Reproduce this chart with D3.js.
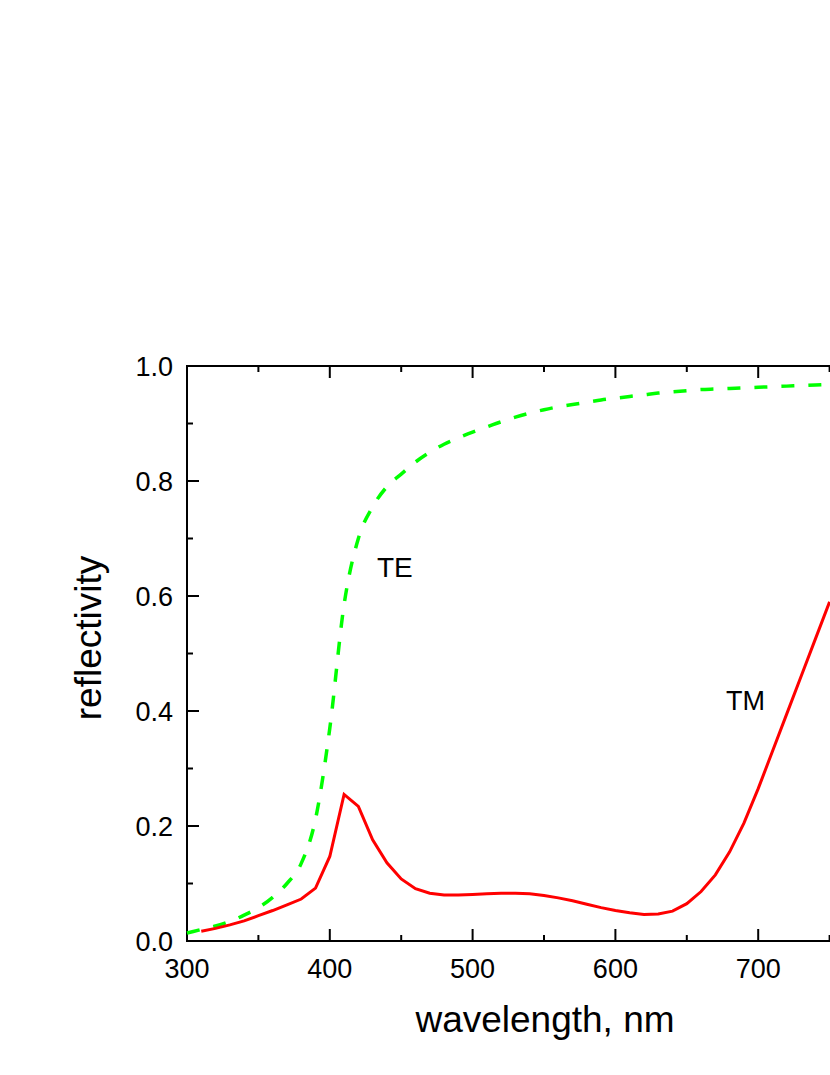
<!DOCTYPE html>
<html>
<head>
<meta charset="utf-8">
<script src="https://cdn.jsdelivr.net/npm/d3@7"></script>
<style>
  body { margin: 0; background: #fff; }
  svg { display: block; }
  text { font-family: "Liberation Sans", Arial, sans-serif; fill: #000; }
</style>
</head>
<body>
<script>
// wavelength grid, nm
var teWave = [300,310,320,330,340,350,360,370,380,390,400,410,420,430,440,450,460,470,480,490,
  500,510,520,530,540,550,560,570,580,590,600,610,620,630,640,650,660,670,680,690,
  700,710,720,730,740,750];
var teRefl = [0.014,0.020,0.026,0.034,0.045,0.058,0.076,0.100,0.135,0.212,0.370,0.585,0.700,0.755,0.790,0.812,0.833,0.850,0.864,0.875,
  0.885,0.894,0.903,0.911,0.918,0.924,0.929,0.933,0.937,0.941,0.944,0.947,0.950,0.953,0.955,0.957,0.959,0.960,0.961,0.962,
  0.963,0.964,0.965,0.966,0.967,0.968];

var tmWave = [310,320,330,340,350,360,370,380,390,400,410,420,430,440,450,460,470,480,490,
  500,510,520,530,540,550,560,570,580,590,600,610,620,630,640,650,660,670,680,690,
  700,710,720,730,740,750];
var tmRefl = [0.017,0.022,0.028,0.035,0.044,0.053,0.063,0.073,0.092,0.147,0.255,0.234,0.176,0.136,0.108,0.091,0.083,0.080,0.080,
  0.081,0.082,0.083,0.083,0.082,0.079,0.075,0.070,0.064,0.058,0.053,0.049,0.046,0.047,0.052,0.065,0.086,0.115,0.155,0.205,
  0.265,0.330,0.395,0.460,0.525,0.590];

var xTicks = [300,400,500,600,700];
var xMinor = [350,450,550,650,750];
var yTicks = [0.0,0.2,0.4,0.6,0.8,1.0];
var yMinor = [0.1,0.3,0.5,0.7,0.9];

var W = 830, H = 1075;
// plot box (right side runs past the page edge, as in the reference)
var pL = 187, pR = 901, pT = 366, pB = 941;

var svg = d3.select("body").append("svg")
  .attr("width", W).attr("height", H);

var x = d3.scaleLinear().domain([300, 800]).range([pL, pR]);
var y = d3.scaleLinear().domain([0, 1]).range([pB, pT]);

// frame
svg.append("rect")
  .attr("x", pL).attr("y", pT)
  .attr("width", pR-pL).attr("height", pB-pT)
  .attr("fill", "none").attr("stroke", "#000").attr("stroke-width", 2);

// inward ticks on all sides
function tickLines(g, vals, len, horiz){
  vals.forEach(function(v){
    if(horiz){
      g.append("line").attr("x1", x(v)).attr("x2", x(v)).attr("y1", pB).attr("y2", pB-len);
      g.append("line").attr("x1", x(v)).attr("x2", x(v)).attr("y1", pT).attr("y2", pT+len);
    } else {
      g.append("line").attr("y1", y(v)).attr("y2", y(v)).attr("x1", pL).attr("x2", pL+len);
      g.append("line").attr("y1", y(v)).attr("y2", y(v)).attr("x1", pR).attr("x2", pR-len);
    }
  });
}
var tg = svg.append("g").attr("stroke", "#000").attr("stroke-width", 2);
tickLines(tg, xTicks, 12, true);
tickLines(tg, xMinor, 6, true);
tickLines(tg, yTicks, 12, false);
tickLines(tg, yMinor, 6, false);

// tick labels
svg.append("g").selectAll("text").data(xTicks).enter().append("text")
  .attr("x", function(d){ return x(d); })
  .attr("y", 978)
  .attr("text-anchor", "middle")
  .attr("font-size", 27)
  .text(function(d){ return d; });

svg.append("g").selectAll("text").data(yTicks).enter().append("text")
  .attr("x", 173)
  .attr("y", function(d){ return y(d) + 9.5; })
  .attr("text-anchor", "end")
  .attr("font-size", 27)
  .text(function(d){ return d3.format(".1f")(d); });

// axis titles
svg.append("text")
  .attr("x", 545).attr("y", 1032)
  .attr("text-anchor", "middle")
  .attr("font-size", 37)
  .text("wavelength, nm");

svg.append("text")
  .attr("transform", "translate(101,638) rotate(-90)")
  .attr("text-anchor", "middle")
  .attr("font-size", 37)
  .text("reflectivity");

// curves
var teLine = d3.line()
  .x(function(d,i){ return x(teWave[i]); })
  .y(function(d){ return y(d); })
  .curve(d3.curveMonotoneX);
var tmLine = d3.line()
  .x(function(d,i){ return x(tmWave[i]); })
  .y(function(d){ return y(d); });

svg.append("path").datum(teRefl)
  .attr("d", teLine)
  .attr("fill", "none")
  .attr("stroke", "#00ff00")
  .attr("stroke-width", 3.5)
  .attr("stroke-dasharray", "13,14");

svg.append("path").datum(tmRefl)
  .attr("d", tmLine)
  .attr("fill", "none")
  .attr("stroke", "#ff0000")
  .attr("stroke-width", 3);

// curve labels
svg.append("text").attr("x", 377).attr("y", 577).attr("font-size", 28).text("TE");
svg.append("text").attr("x", 726).attr("y", 710).attr("font-size", 27).text("TM");
</script>
</body>
</html>
